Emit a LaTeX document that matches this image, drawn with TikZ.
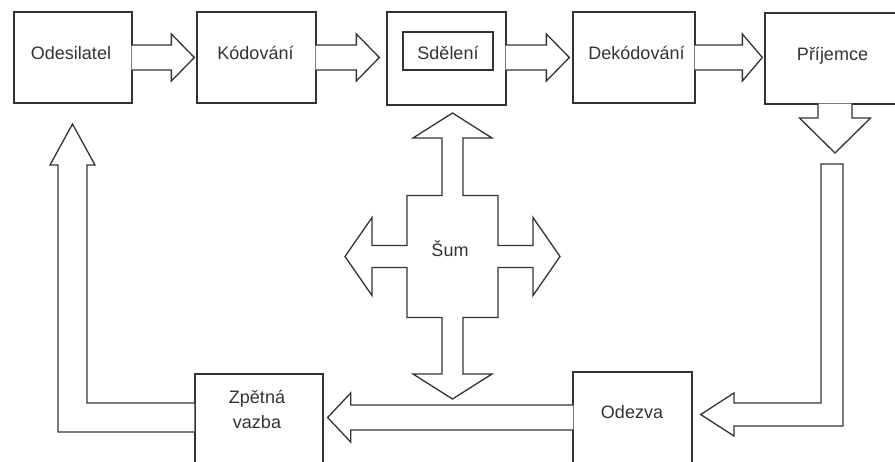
\documentclass[tikz,border=0pt]{standalone}
\usepackage{fontspec}
\setmainfont{Liberation Sans}
\usetikzlibrary{calc}

\definecolor{linegray}{HTML}{333333}

\tikzset{
	box/.style={draw=linegray, line width=1.3pt, fill=white, inner sep=0pt},
	arrowbody/.style={draw=linegray, line width=1.3pt, fill=white, line join=miter},
	boxtext/.style={inner sep=0pt, text=linegray, font=\fontsize{18pt}{25pt}\selectfont}
}

% hollow block arrow: start, tip, shaft half width, head half width, head length
\newcommand{\blockarrow}[5]{%
	\filldraw[arrowbody] ($(#1)!#3!90:(#2)$)
		-- ($(#2)!#5!(#1)!#3!90:(#2)$)
		-- ($(#2)!#5!(#1)!#4!90:(#2)$)
		-- (#2)
		-- ($(#2)!#5!(#1)!#4!-90:(#2)$)
		-- ($(#2)!#5!(#1)!#3!-90:(#2)$)
		-- ($(#1)!#3!-90:(#2)$);
}

\begin{document}
\begin{tikzpicture}[x=1pt, y=-1pt]
	\useasboundingbox (0,0) rectangle (895,461);
	\clip (0,0) rectangle (895,461);

	% top row
	\node[box, minimum width=118pt, minimum height=91pt]	(odes)	at (73,57.5)	{};
	\node[box, minimum width=119pt, minimum height=91pt]	(kod)	at (256.5,57.5)	{};
	\node[box, minimum width=119pt, minimum height=93pt]	(sdel)	at (446.5,58.5)	{};
	\node[box, minimum width=122pt, minimum height=91pt]	(dek)	at (634,57.5)	{};
	\node[box, minimum width=135pt, minimum height=91pt]	(prij)	at (832.5,58.5)	{};

	% bottom row
	\node[box, minimum width=128pt, minimum height=106pt]	(zpet)	at (259,427)	{};
	\node[box, minimum width=119pt, minimum height=108pt]	(odez)	at (632.5,426)	{};

	\coordinate (a1s) at ($(odes.east)+(-1,0)$);
	\coordinate (a1t) at ($(kod.west)+(-2,0)$);
	\coordinate (a2s) at ($(kod.east)+(-1,0)$);
	\coordinate (a2t) at ($(sdel.west |- kod.east)+(-7,0)$);
	\coordinate (a3s) at ($(sdel.east |- kod.east)+(-1,0)$);
	\coordinate (a3t) at ($(dek.west)+(-3,0)$);
	\coordinate (a4s) at ($(dek.east)+(-1,0)$);
	\coordinate (a4t) at ($(prij.west |- dek.west)+(-2,0)$);
	\coordinate (a5s) at ($(prij.south)+(2.5,-1)$);
	\coordinate (a5t) at (835,153);
	\coordinate (a6s) at ($(odez.west)+(1,-8.5)$);
	\coordinate (a6t) at ($(zpet.east)+(4,-9.5)$);
	\coordinate (sumc) at (452.5,256.5);

	\blockarrow{a1s}{a1t}{12.5pt}{23.5pt}{23pt}
	\blockarrow{a2s}{a2t}{12.5pt}{23.5pt}{23pt}
	\blockarrow{a3s}{a3t}{12.5pt}{23.5pt}{23pt}
	\blockarrow{a4s}{a4t}{12.5pt}{23.5pt}{20pt}
	\blockarrow{a5s}{a5t}{17pt}{35.5pt}{35pt}
	\blockarrow{a6s}{a6t}{12.5pt}{24.5pt}{23pt}

	% Prijemce -> Odezva
	\filldraw[arrowbody] (821,164) -- (843,164) -- (843,426) -- (734,426) -- (734,436)
		-- ($(odez.east)+(8,-11.5)$) -- (734,393) -- (734,403) -- (821,403) -- cycle;
	% Zpetna vazba -> Odesilatel
	\filldraw[arrowbody] ($(zpet.west)+(0,-24)$) -| (87,165) -- (95,165) -- (72.5,124)
		-- (50,165) -- (58,165) |- ($(zpet.west)+(0,5)$);

	% noise cross
	\filldraw[arrowbody, shift={(sumc)}] (0,-143.5) -- (39.5,-118.5) -- (10.5,-118.5) -- (10.5,-61)
		-- (45.5,-61) -- (45.5,-11) -- (80.5,-11) -- (80.5,-39) -- (107.5,0)
		-- (80.5,39) -- (80.5,11) -- (45.5,11) -- (45.5,61) -- (10.5,61)
		-- (10.5,117.5) -- (39.5,117.5) -- (0,142.5) -- (-39.5,117.5) -- (-10.5,117.5)
		-- (-10.5,61) -- (-45.5,61) -- (-45.5,11) -- (-80.5,11) -- (-80.5,39)
		-- (-107.5,0) -- (-80.5,-39) -- (-80.5,-11) -- (-45.5,-11) -- (-45.5,-61)
		-- (-10.5,-61) -- (-10.5,-118.5) -- (-39.5,-118.5) -- cycle;

	% labels
	\node[boxtext, anchor=base]	(odestxt)	at (71,59)		{Odesilatel};
	\node[boxtext, anchor=base]	(kodtxt)	at (255.5,59)	{Kódování};
	\node[box, boxtext, minimum width=90pt, minimum height=38pt, text height=16pt, text depth=0pt]
		(sdeltxt)	at (448,51)	{Sdělení};
	\node[boxtext, anchor=base]	(dektxt)	at (636.5,59)	{Dekódování};
	\node[boxtext, anchor=base]	(prijtxt)	at (832.5,60)	{Příjemce};
	\node[boxtext, anchor=base]	(sum)		at (450,256)	{Šum};
	\node[boxtext, anchor=base, align=center]	(zpettxt)	at (257,428)	{Zpětná\\vazba};
	\node[boxtext, anchor=base]	(odeztxt)	at (632,418)	{Odezva};
\end{tikzpicture}
\end{document}
